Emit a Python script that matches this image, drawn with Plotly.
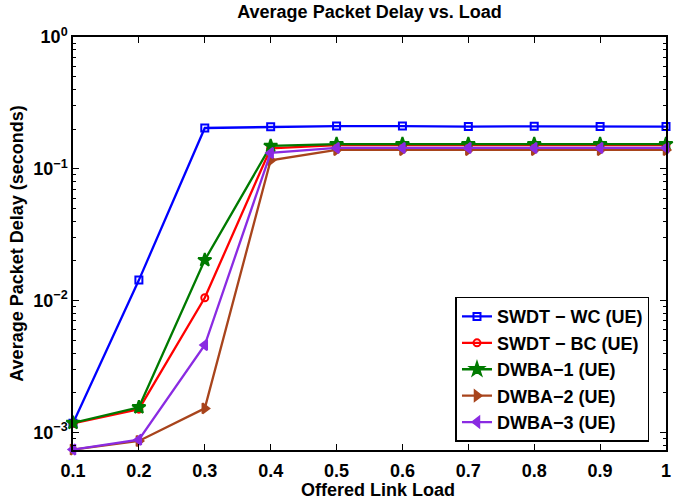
import plotly.graph_objects as go

load = [0.1, 0.2, 0.3, 0.4, 0.5, 0.6, 0.7, 0.8, 0.9, 1.0]

swdt_wc = [1.17e-3, 0.0143, 0.204, 0.208, 0.211, 0.211, 0.209, 0.210, 0.209, 0.209]
swdt_bc = [1.17e-3, 1.50e-3, 0.0105, 0.143, 0.151, 0.151, 0.151, 0.151, 0.151, 0.151]
dwba_1 = [1.18e-3, 1.55e-3, 0.0203, 0.149, 0.154, 0.154, 0.154, 0.154, 0.154, 0.154]
dwba_2 = [7.4e-4, 8.6e-4, 1.52e-3, 0.116, 0.139, 0.139, 0.139, 0.139, 0.139, 0.139]
dwba_3 = [7.4e-4, 8.8e-4, 4.6e-3, 0.132, 0.144, 0.144, 0.144, 0.144, 0.144, 0.144]

names = ["SWDT − WC (UE)", "SWDT − BC (UE)", "DWBA−1 (UE)", "DWBA−2 (UE)", "DWBA−3 (UE)"]
series = [swdt_wc, swdt_bc, dwba_1, dwba_2, dwba_3]
colors = ["#0000FF", "#FF0000", "#007A00", "#A8441C", "#8A2BE2"]
symbols = ["square-open", "circle-open", "star", "triangle-right", "triangle-left"]
sizes = [7, 7, 10, 9, 9]

x_ticks = [0.1, 0.2, 0.3, 0.4, 0.5, 0.6, 0.7, 0.8, 0.9, 1.0]
x_ticktext = ["0.1", "0.2", "0.3", "0.4", "0.5", "0.6", "0.7", "0.8", "0.9", "1"]
y_ticks = [1e-3, 1e-2, 1e-1, 1]
y_ticktext = ["10<sup>−3</sup>", "10<sup>−2</sup>", "10<sup>−1</sup>", "10<sup>0</sup>"]
y_minor = [m * 10.0 ** e for e in (-4, -3, -2, -1) for m in range(2, 10)]

fig = go.Figure()
for name, ys, c, s, sz in zip(names, series, colors, symbols, sizes):
    fig.add_trace(go.Scatter(
        x=load, y=ys, name=name, mode="lines+markers",
        line=dict(color=c, width=2.3),
        marker=dict(symbol=s, size=sz, color=c, line=dict(color=c, width=2)),
        cliponaxis=False,
    ))

font_family = "Liberation Sans, Arial, Helvetica, sans-serif"
FS = 18
L, R, T, B = 73, 20, 37, 51
W, H = 686, 501

fig.update_layout(
    width=W, height=H,
    margin=dict(l=L, r=R, t=T, b=B, autoexpand=False),
    paper_bgcolor="white", plot_bgcolor="white",
    font=dict(family=font_family, size=FS, color="black", weight="bold"),
    title=dict(text="Average Packet Delay vs. Load", x=(L + W - R) / 2 / W, xanchor="center",
               y=0.99, yanchor="top", font=dict(size=FS, weight="bold")),
    showlegend=True,
    legend=dict(x=0.645, xanchor="left", y=0.02, yanchor="bottom",
                bgcolor="white", bordercolor="black", borderwidth=1.5,
                font=dict(size=FS, weight="bold")),
    annotations=[dict(text="Offered Link Load", xref="paper", yref="paper",
                      x=(378 - L) / (W - L - R), y=0, yshift=-40,
                      xanchor="center", yanchor="middle", showarrow=False,
                      font=dict(size=FS, weight="bold"))],
)

fig.update_xaxes(
    range=[0.1, 1.0], tickvals=x_ticks, ticktext=x_ticktext,
    ticks="inside", ticklen=6, tickwidth=1.2, tickcolor="black",
    showline=True, linecolor="black", linewidth=1.5, mirror="allticks",
    showgrid=False, zeroline=False, ticklabelstandoff=4, automargin=False,
    tickfont=dict(size=FS, weight="bold"),
)
fig.update_yaxes(
    type="log", range=[-3.134, 0], tickvals=y_ticks, ticktext=y_ticktext,
    ticks="inside", ticklen=6, tickwidth=1.2, tickcolor="black",
    showline=True, linecolor="black", linewidth=1.5, mirror="allticks",
    showgrid=False, zeroline=False, automargin=False,
    minor=dict(tickvals=y_minor, ticks="inside", ticklen=3, tickwidth=1, tickcolor="black", showgrid=False),
    title=dict(text="Average Packet Delay (seconds)", standoff=5, font=dict(size=FS, weight="bold")),
    tickfont=dict(size=FS, weight="bold"),
)

fig.write_html("out.html", config={"displayModeBar": False},
               post_script="document.body.style.margin='0';document.body.style.padding='0';")
